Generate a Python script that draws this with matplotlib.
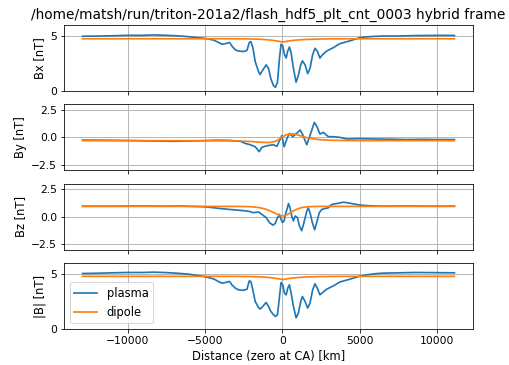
import numpy as np
import matplotlib
matplotlib.use('Agg')
import matplotlib.pyplot as plt

plt.rc('font', size=11.5)
plt.rc('xtick', labelsize=10.8)
plt.rc('ytick', labelsize=10.8)

title = '/home/matsh/run/triton-201a2/flash_hdf5_plt_cnt_0003 hybrid frame'

# distance along the trajectory [km], zero at closest approach
dist_b = [-12900, -12000, -11000, -10000, -9000, -8300, -7500, -7000, -6580, -6000,
          -5720, -5300, -4970, -4440, -4120, -3900, -3690, -3410, -3260, -3050,
          -2830, -2510, -2290, -2140, -2040, -1910, -1760, -1540, -1440, -1270,
          -1050, -900, -750, -580, -450, -320, -190, -90, 20, 130,
          240, 340, 450, 560, 710, 880, 1030, 1180, 1290, 1460,
          1630, 1780, 1950, 2100, 2250, 2420, 2590, 2850, 3280, 3710,
          4350, 5000, 5500, 6000, 6500, 7500, 8600, 9500, 10300, 11100]

bx_plasma = [4.98, 4.99, 5.02, 5.06, 5.06, 5.10, 5.06, 5.03, 5.00, 4.93,
             4.88, 4.83, 4.78, 4.63, 4.41, 4.25, 4.31, 4.41, 4.09, 3.75,
             3.63, 3.59, 3.69, 4.41, 4.50, 3.94, 2.69, 1.75, 1.50, 1.91,
             2.38, 2.06, 1.13, 0.50, 0.34, 0.81, 3.00, 4.25, 4.09, 3.31,
             3.00, 3.63, 4.00, 3.47, 2.06, 0.81, 1.44, 2.38, 2.75, 2.38,
             1.59, 2.06, 3.31, 3.88, 3.63, 3.00, 3.31, 3.63, 3.94, 4.31,
             4.56, 4.85, 4.93, 4.97, 5.00, 5.00, 5.04, 5.05, 5.06, 5.05]

bmag_plasma = [5.04, 5.06, 5.10, 5.13, 5.13, 5.16, 5.12, 5.08, 5.04, 4.97,
               4.90, 4.82, 4.74, 4.55, 4.30, 4.16, 4.22, 4.31, 4.00, 3.72,
               3.55, 3.52, 3.61, 4.37, 4.31, 3.55, 2.50, 1.95, 1.81, 2.05,
               2.41, 2.05, 1.60, 1.30, 1.14, 1.30, 2.95, 4.22, 4.01, 3.25,
               3.10, 3.70, 4.01, 3.25, 2.05, 1.02, 1.45, 2.50, 2.95, 2.50,
               1.90, 2.35, 3.55, 4.10, 3.70, 3.10, 3.31, 3.61, 3.91, 4.27,
               4.52, 4.80, 4.93, 5.02, 5.07, 5.10, 5.13, 5.12, 5.11, 5.10]

dist_by = [-12900, -11000, -9500, -8000, -7000, -6000, -5000, -4200, -3400, -2720,
           -2400, -2080, -1760, -1500, -1330, -1010, -580, -360, -190, -40,
           110, 280, 450, 670, 820, 1140, 1290, 1570, 1740, 2060,
           2250, 2420, 2640, 2960, 3280, 3710, 4140, 5000, 6000, 7000,
           8000, 9000, 10000, 11100]

by_plasma = [-0.25, -0.27, -0.30, -0.34, -0.36, -0.33, -0.30, -0.26, -0.28, -0.36,
             -0.55, -0.67, -0.85, -1.30, -0.91, -0.76, -0.67, -0.82, -0.30, 0.15,
             -0.85, -0.15, 0.36, 0.06, 0.24, 0.67, 0.30, -0.67, 0.00, 1.36,
             0.91, 0.30, 0.45, 0.06, 0.06, 0.00, -0.15, -0.12, -0.15, -0.17,
             -0.20, -0.18, -0.20, -0.20]

dist_bz = [-12900, -11000, -9000, -7500, -6580, -5720, -4970, -4220, -3370, -2720,
           -2290, -2080, -1870, -1540, -1330, -1050, -840, -620, -470, -320,
           -190, -110, 0, 110, 190, 280, 390, 490, 600, 710,
           820, 970, 1090, 1240, 1390, 1570, 1670, 1780, 1930, 2080,
           2210, 2380, 2530, 2740, 2960, 3170, 3500, 3920, 4250, 4570,
           5000, 5700, 6500, 8000, 9500, 11100]

bz_plasma = [0.95, 0.95, 0.96, 0.95, 0.96, 0.93, 0.89, 0.77, 0.65, 0.57,
             0.51, 0.45, 0.36, 0.42, 0.21, -0.09, -0.54, -0.77, -0.63, -0.09,
             0.21, -0.18, -0.54, -0.39, 0.21, 0.60, 1.19, 0.80, 0.06, -0.39,
             0.06, -0.09, -0.83, -1.28, -0.54, 0.51, 0.80, 0.36, -0.54, -1.19,
             -0.54, 0.36, 0.65, 0.74, 0.80, 1.10, 1.19, 1.31, 1.25, 1.16,
             1.05, 0.98, 0.95, 0.96, 0.95, 0.95]

# dipole field along the same track
dist_dip = [-12900, -10000, -8000, -6000, -4000, -3000, -2500, -2000, -1600, -1300,
            -1000, -700, -400, -200, 0, 200, 400, 700, 1000, 1300,
            1600, 2000, 2500, 3000, 4000, 6000, 8000, 11100]

bx_dipole = [4.75, 4.75, 4.75, 4.75, 4.75, 4.75, 4.74, 4.73, 4.71, 4.69,
             4.66, 4.62, 4.56, 4.51, 4.46, 4.50, 4.55, 4.60, 4.64, 4.67,
             4.69, 4.71, 4.73, 4.74, 4.75, 4.75, 4.75, 4.75]

by_dipole = [-0.30, -0.30, -0.30, -0.30, -0.31, -0.33, -0.35, -0.38, -0.42, -0.45,
             -0.47, -0.45, -0.33, -0.15, 0.05, 0.20, 0.30, 0.32, 0.22, 0.08,
             -0.04, -0.14, -0.22, -0.26, -0.29, -0.30, -0.30, -0.30]

bz_dipole = [0.93, 0.93, 0.93, 0.93, 0.93, 0.93, 0.92, 0.90, 0.84, 0.76,
             0.64, 0.46, 0.26, 0.12, 0.05, 0.10, 0.26, 0.52, 0.72, 0.84,
             0.90, 0.92, 0.93, 0.93, 0.93, 0.93, 0.93, 0.93]

bmag_dipole = [4.78, 4.78, 4.78, 4.78, 4.78, 4.78, 4.77, 4.76, 4.74, 4.72,
               4.69, 4.65, 4.59, 4.54, 4.49, 4.53, 4.58, 4.63, 4.67, 4.70,
               4.72, 4.74, 4.76, 4.77, 4.78, 4.78, 4.78, 4.78]

panels = [
    (dist_b, bx_plasma, bx_dipole, 'Bx [nT]', (0, 6), [0, 5]),
    (dist_by, by_plasma, by_dipole, 'By [nT]', (-3, 3), [-2.5, 0, 2.5]),
    (dist_bz, bz_plasma, bz_dipole, 'Bz [nT]', (-3, 3), [-2.5, 0, 2.5]),
    (dist_b, bmag_plasma, bmag_dipole, '|B| [nT]', (0, 6), [0, 5]),
]

fig, axes = plt.subplots(4, 1, sharex=True, figsize=(509/72, 365/72), dpi=72)
fig.subplots_adjust(left=64/509, right=473/509, top=1-25/365, bottom=1-329/365,
                    hspace=0.2)

for ax, (d, plasma, dip, label, ylim, yt) in zip(axes, panels):
    ax.plot(d, plasma, lw=1.7, label='plasma')
    ax.plot(dist_dip, dip, lw=1.7, label='dipole')
    ax.set_ylabel(label)
    ax.set_ylim(ylim)
    ax.set_yticks(yt)
    ax.grid(True, lw=0.9)

axes[0].set_title(title)
axes[-1].set_xlabel('Distance (zero at CA) [km]')
axes[-1].legend(loc='lower left')

plt.savefig('out.png', dpi=72)
